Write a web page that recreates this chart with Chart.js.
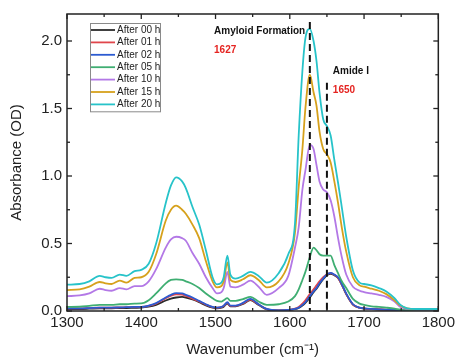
<!DOCTYPE html>
<html>
<head>
<meta charset="utf-8">
<script src="https://cdn.jsdelivr.net/npm/chart.js@4.4.1/dist/chart.umd.min.js"></script>
<style>
  html, body { margin: 0; padding: 0; background: #ffffff; }
  #wrap { width: 458px; height: 360px; position: relative; }
</style>
</head>
<body>
<div id="wrap"><canvas id="c" width="458" height="360"></canvas></div>
<script>
// ---------------- data ----------------
const wavenumbers = [1300,1317,1330,1344,1352,1360,1371,1380,1391,1400,
  1410,1420,1433,1440,1447,1455,1460,1469,1478,1487,
  1496,1502,1508,1511,1516,1520,1527,1537,1547,1558,
  1569,1585,1598,1607,1612,1617,1621,1627,1632,1636,
  1640,1645,1650,1655,1660,1665,1670,1676,1685,1694,
  1700,1710,1720,1730,1741,1749,1758,1770,1800];

const seriesLabels = ['After 00 h','After 01 h','After 02 h','After 05 h','After 10 h','After 15 h','After 20 h'];
const seriesColors = ['#2b2b2b','#e0464c','#2c5bd1','#3fae72','#b378e6','#d6a11c','#27c3c9'];

const abs00 = [0.015,0.015,0.017,0.02,0.02,0.02,0.022,0.022,0.024,0.025,
  0.032,0.046,0.078,0.092,0.10,0.104,0.1,0.085,0.065,0.042,
  0.025,0.02,0.024,0.032,0.055,0.034,0.035,0.052,0.08,0.045,
  0.012,0.004,0.006,0.013,0.022,0.04,0.06,0.1,0.14,0.165,
  0.198,0.235,0.265,0.276,0.265,0.245,0.195,0.125,0.048,0.024,
  0.018,0.014,0.011,0.009,0.007,0.005,0.004,0.003,0.003];
const abs01 = [0.02,0.02,0.022,0.025,0.025,0.025,0.027,0.028,0.03,0.03,
  0.038,0.055,0.095,0.113,0.124,0.122,0.112,0.092,0.07,0.047,
  0.028,0.024,0.028,0.038,0.06,0.038,0.038,0.056,0.085,0.048,
  0.014,0.005,0.008,0.018,0.03,0.055,0.08,0.125,0.16,0.19,
  0.22,0.25,0.272,0.28,0.268,0.245,0.195,0.125,0.048,0.024,
  0.02,0.015,0.012,0.01,0.008,0.005,0.005,0.003,0.003];
const abs02 = [0.02,0.02,0.022,0.025,0.025,0.025,0.027,0.028,0.03,0.03,
  0.04,0.058,0.10,0.12,0.132,0.13,0.12,0.10,0.075,0.05,
  0.03,0.025,0.03,0.04,0.065,0.04,0.04,0.06,0.09,0.05,
  0.015,0.005,0.008,0.015,0.025,0.045,0.065,0.11,0.145,0.17,
  0.205,0.24,0.27,0.282,0.27,0.25,0.2,0.13,0.05,0.025,
  0.02,0.015,0.012,0.01,0.008,0.005,0.005,0.003,0.003];
const abs05 = [0.03,0.032,0.038,0.045,0.045,0.045,0.05,0.05,0.055,0.056,
  0.08,0.13,0.205,0.23,0.235,0.23,0.22,0.20,0.17,0.13,
  0.095,0.075,0.07,0.08,0.095,0.075,0.075,0.088,0.105,0.07,
  0.045,0.05,0.07,0.11,0.16,0.23,0.29,0.40,0.47,0.45,
  0.42,0.41,0.41,0.41,0.34,0.28,0.22,0.17,0.09,0.055,
  0.045,0.035,0.03,0.025,0.018,0.01,0.008,0.005,0.005];
const abs10 = [0.11,0.115,0.13,0.165,0.155,0.15,0.17,0.16,0.185,0.185,
  0.22,0.31,0.47,0.53,0.55,0.54,0.52,0.43,0.35,0.25,
  0.17,0.13,0.14,0.17,0.29,0.18,0.175,0.195,0.225,0.18,
  0.12,0.17,0.26,0.47,0.62,0.9,1.04,1.23,1.2,1.08,
  0.96,0.9,0.88,0.82,0.70,0.54,0.40,0.27,0.18,0.15,
  0.14,0.13,0.12,0.105,0.07,0.03,0.015,0.01,0.01];
const abs15 = [0.155,0.16,0.18,0.215,0.205,0.20,0.225,0.21,0.245,0.25,
  0.29,0.42,0.67,0.75,0.78,0.75,0.72,0.64,0.54,0.37,
  0.22,0.175,0.185,0.22,0.36,0.23,0.215,0.235,0.265,0.23,
  0.175,0.22,0.35,0.58,0.92,1.2,1.5,1.75,1.62,1.52,
  1.33,1.2,1.16,1.10,0.96,0.80,0.62,0.44,0.25,0.19,
  0.18,0.165,0.15,0.125,0.08,0.04,0.02,0.015,0.015];
const abs20 = [0.195,0.20,0.22,0.26,0.25,0.245,0.27,0.26,0.295,0.305,
  0.35,0.50,0.80,0.93,0.99,0.96,0.91,0.77,0.64,0.45,
  0.25,0.197,0.21,0.25,0.41,0.27,0.24,0.26,0.29,0.26,
  0.21,0.28,0.42,0.65,1.3,1.78,2.02,2.09,2.0,1.85,
  1.62,1.42,1.37,1.30,1.12,0.95,0.77,0.55,0.30,0.21,
  0.20,0.19,0.17,0.145,0.095,0.045,0.02,0.015,0.015];
const seriesValues = [abs00, abs01, abs02, abs05, abs10, abs15, abs20];

const xTickValues = [1300,1400,1500,1600,1700,1800];
const xMinorValues = [1350,1450,1550,1650,1750];
const yTickValues = [0,0.5,1.0,1.5,2.0];
const yMinorValues = [0.25,0.75,1.25,1.75];

// vertical marker lines (wavenumber, top absorbance)
const markerWavenumbers = [1627, 1650];
const markerTops = [2.14, 1.69];
// annotation texts, anchored in data coordinates
const noteTexts = ['Amyloid Formation', '1627', 'Amide I', '1650'];
const noteX = [1498, 1498, 1658, 1658];
const noteY = [2.07, 1.93, 1.777, 1.638];
const noteColors = ['#111111', '#e52421', '#111111', '#e52421'];

// ---------------- chart ----------------
const FONT = "Arial, 'Liberation Sans', sans-serif";

const datasets = seriesLabels.map((lab, i) => ({
  label: lab,
  data: wavenumbers.map((w, k) => ({x: w, y: seriesValues[i][k]})),
  borderColor: seriesColors[i],
  backgroundColor: seriesColors[i],
  borderWidth: 1.8,
  pointRadius: 0,
  fill: false,
  cubicInterpolationMode: 'monotone',
  order: seriesLabels.length - i
}));

const decorPlugin = {
  id: 'decor',
  afterDatasetsDraw(chart) {
    const ctx = chart.ctx;
    const xs = chart.scales.x, ys = chart.scales.y;
    ctx.save();
    // dashed markers
    ctx.strokeStyle = '#111111';
    ctx.lineWidth = 2;
    ctx.setLineDash([7, 4]);
    markerWavenumbers.forEach((w, i) => {
      const px = xs.getPixelForValue(w);
      ctx.beginPath();
      ctx.moveTo(px, ys.getPixelForValue(markerTops[i]));
      ctx.lineTo(px, ys.getPixelForValue(0));
      ctx.stroke();
    });
    ctx.setLineDash([]);
    // notes
    ctx.font = 'bold 10px ' + FONT;
    ctx.textAlign = 'left';
    ctx.textBaseline = 'middle';
    noteTexts.forEach((t, i) => {
      ctx.fillStyle = noteColors[i];
      ctx.fillText(t, xs.getPixelForValue(noteX[i]), ys.getPixelForValue(noteY[i]));
    });
    ctx.restore();
  },
  afterDraw(chart) {
    const ctx = chart.ctx;
    const a = chart.chartArea;
    const xs = chart.scales.x, ys = chart.scales.y;
    ctx.save();
    // frame
    ctx.strokeStyle = '#222222';
    ctx.lineWidth = 1.5;
    ctx.strokeRect(a.left, a.top, a.right - a.left, a.bottom - a.top);
    // inward ticks on all four sides
    ctx.lineWidth = 1.3;
    const xt = (vals, len) => vals.forEach(v => {
      const px = xs.getPixelForValue(v);
      ctx.beginPath(); ctx.moveTo(px, a.bottom); ctx.lineTo(px, a.bottom - len); ctx.stroke();
      ctx.beginPath(); ctx.moveTo(px, a.top); ctx.lineTo(px, a.top + len); ctx.stroke();
    });
    const yt = (vals, len) => vals.forEach(v => {
      const py = ys.getPixelForValue(v);
      ctx.beginPath(); ctx.moveTo(a.left, py); ctx.lineTo(a.left + len, py); ctx.stroke();
      ctx.beginPath(); ctx.moveTo(a.right, py); ctx.lineTo(a.right - len, py); ctx.stroke();
    });
    xt(xTickValues, 5); xt(xMinorValues, 3);
    yt(yTickValues, 5); yt(yMinorValues, 3);
    // legend box
    const lx = a.left + 23, ly = a.top + 9, lw = 70, rowH = 12.4;
    const lh = rowH * seriesLabels.length + 1.5;
    ctx.fillStyle = '#ffffff';
    ctx.fillRect(lx, ly, lw, lh);
    ctx.strokeStyle = '#8a8a8a';
    ctx.lineWidth = 1;
    ctx.strokeRect(lx + 0.5, ly + 0.5, lw, lh);
    ctx.font = '10px ' + FONT;
    ctx.textAlign = 'left';
    ctx.textBaseline = 'middle';
    seriesLabels.forEach((lab, i) => {
      const cy = ly + 7 + i * rowH;
      ctx.strokeStyle = seriesColors[i];
      ctx.lineWidth = 1.8;
      ctx.beginPath(); ctx.moveTo(lx + 1, cy); ctx.lineTo(lx + 25, cy); ctx.stroke();
      ctx.fillStyle = '#222222';
      ctx.fillText(lab, lx + 27, cy);
    });
    ctx.restore();
  }
};

new Chart(document.getElementById('c'), {
  type: 'line',
  data: { datasets },
  options: {
    responsive: false,
    animation: false,
    devicePixelRatio: 1,
    layout: { padding: { top: 10, right: 17, left: 0, bottom: 0 } },
    plugins: { legend: { display: false }, tooltip: { enabled: false } },
    scales: {
      x: {
        type: 'linear',
        min: 1300, max: 1800,
        grid: { display: false, drawTicks: false },
        border: { display: false },
        afterFit: s => { s.height = 49; },
        afterBuildTicks: s => { s.ticks = xTickValues.map(v => ({ value: v })); },
        ticks: {
          padding: 3,
          color: '#222222',
          font: { family: FONT, size: 15 },
          maxRotation: 0,
          callback: v => String(v)
        },
        title: {
          display: true,
          text: 'Wavenumber (cm⁻¹)',
          color: '#222222',
          font: { family: FONT, size: 15 },
          padding: { top: 0, bottom: 1 }
        }
      },
      y: {
        type: 'linear',
        min: 0, max: 2.2,
        grid: { display: false, drawTicks: false },
        border: { display: false },
        afterFit: s => { s.width = 67; },
        afterBuildTicks: s => { s.ticks = yTickValues.map(v => ({ value: v })); },
        ticks: {
          padding: 5,
          color: '#222222',
          font: { family: FONT, size: 15 },
          callback: v => Number(v).toFixed(1)
        },
        title: {
          display: true,
          text: 'Absorbance (OD)',
          color: '#222222',
          font: { family: FONT, size: 15 },
          padding: { top: 8, bottom: 0 }
        }
      }
    }
  },
  plugins: [decorPlugin]
});
</script>
</body>
</html>
